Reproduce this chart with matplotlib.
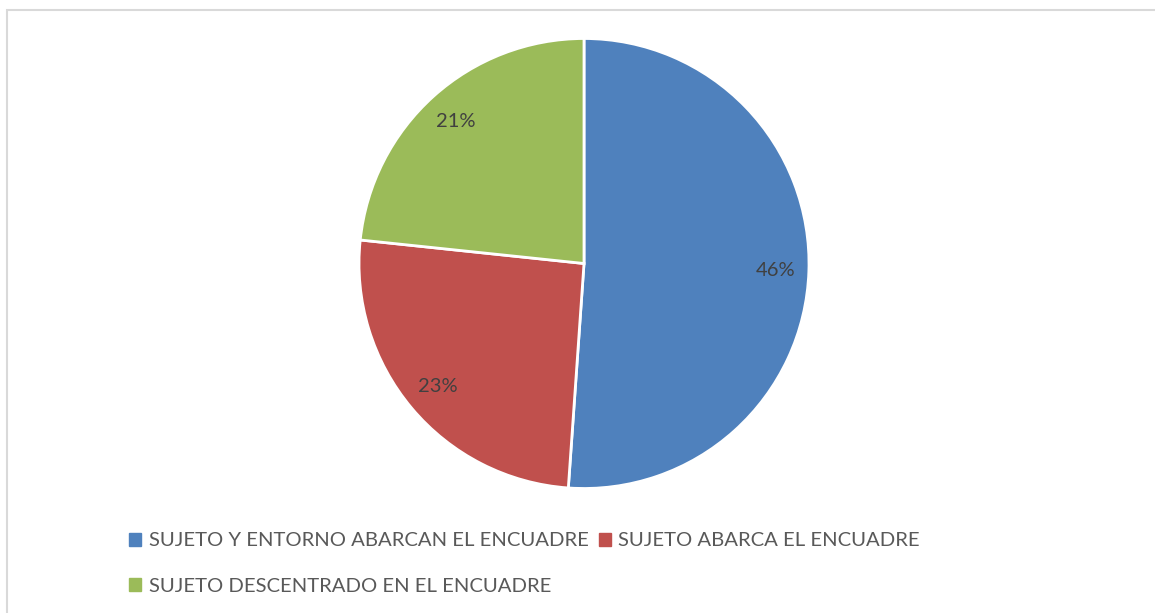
import matplotlib.pyplot as plt
from matplotlib.patches import Patch, Rectangle

# Data
categorias = ['SUJETO Y ENTORNO ABARCAN EL ENCUADRE',
              'SUJETO ABARCA EL ENCUADRE',
              'SUJETO DESCENTRADO EN EL ENCUADRE']
valores = [46, 23, 21]
colores = ['#4F81BD', '#C0504D', '#9BBB59']

plt.rcParams['font.family'] = ['Lato', 'DejaVu Sans']
total = sum(valores)

fig = plt.figure(figsize=(11.55, 6.13), dpi=100)

# light grey chart frame
fig.patches.append(Rectangle((7 / 1155, -0.1), 1.2, (613 - 10) / 613 + 0.1,
                             transform=fig.transFigure, fill=False,
                             edgecolor='#D9D9D9', linewidth=1.5))

ax = fig.add_axes([(584 - 225) / 1155, (613 - 263.5 - 225) / 613, 450 / 1155, 450 / 613])
wedges, texts, autotexts = ax.pie(
    valores, colors=colores, startangle=90, counterclock=False,
    autopct=lambda p: f'{p * total / 100:.0f}%', pctdistance=0.85,
    wedgeprops=dict(edgecolor='white', linewidth=2),
    textprops=dict(color='#404040', fontsize=14.5))
ax.set_xlim(-1, 1)
ax.set_ylim(-1, 1)
ax.set_aspect('equal')

# legend in row order: blue, red on first row, green on second
handles = [Patch(color=c) for c in colores]
orden = [0, 2, 1]
fig.legend([handles[i] for i in orden], [categorias[i] for i in orden],
           ncol=2, loc='upper left', bbox_to_anchor=(111 / 1155, 1 - 514 / 613),
           frameon=False, handlelength=0.6, handleheight=0.6, handletextpad=0.35,
           columnspacing=0.5, labelspacing=1.4, fontsize=14.6, labelcolor='#595959')

fig.savefig('out.png', dpi=100)
